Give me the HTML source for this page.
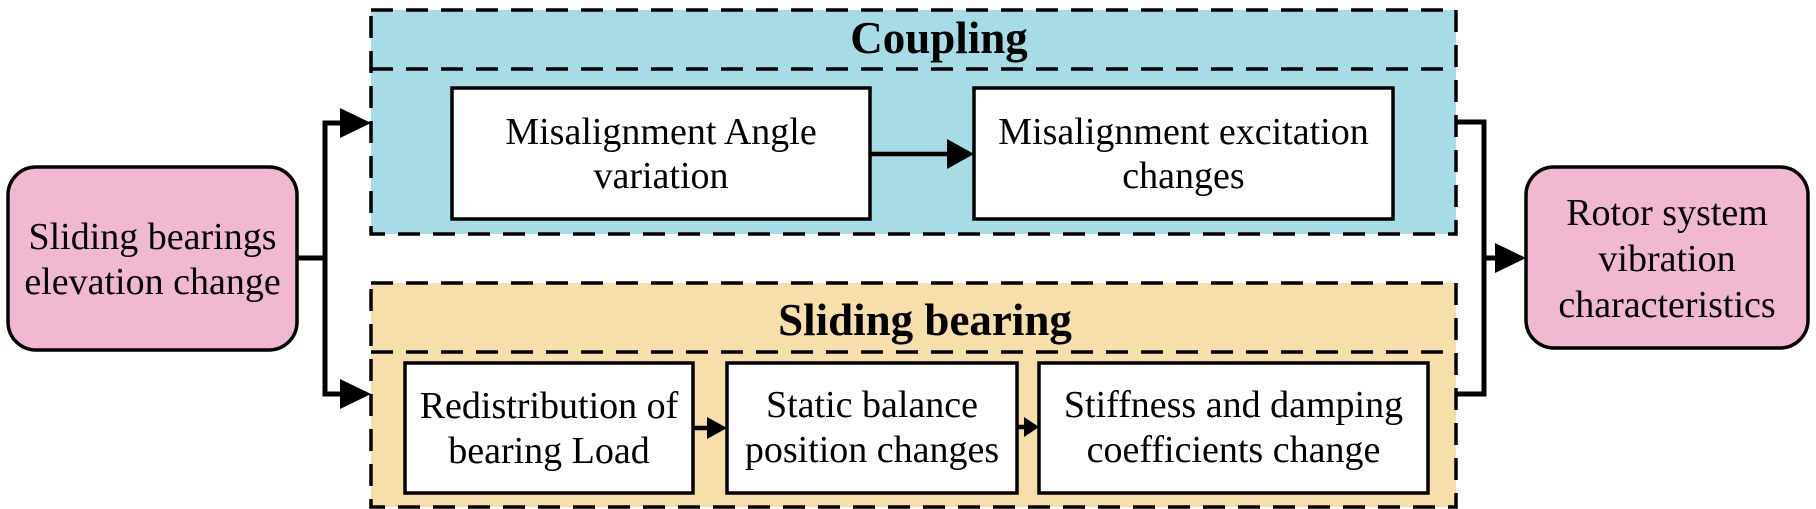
<!DOCTYPE html>
<html>
<head>
<meta charset="utf-8">
<style>
  html, body { margin: 0; padding: 0; background: #ffffff; }
  body { width: 1816px; height: 509px; overflow: hidden; }
  svg { display: block; }
  text { font-family: "Liberation Serif", "Times New Roman", serif; fill: #000; }
  .t { font-size: 38px; }
  .h { font-size: 45px; font-weight: bold; }
</style>
</head>
<body>
<svg width="1816" height="509" viewBox="0 0 1816 509" xmlns="http://www.w3.org/2000/svg">
  <!-- Coupling group -->
  <rect x="371" y="10" width="1085" height="224" fill="#a7dbe5" stroke="none"/>
  <rect x="371" y="10" width="1085" height="224" fill="none" stroke="#000" stroke-width="3.5" stroke-dasharray="22 13"/>
  <line x1="371" y1="69" x2="1456" y2="69" stroke="#000" stroke-width="3.5" stroke-dasharray="22 13"/>
  <text class="h" x="939" y="53" text-anchor="middle">Coupling</text>

  <rect x="452" y="88" width="418" height="131" fill="#fff" stroke="#000" stroke-width="3.5"/>
  <text class="t" x="661" y="144" text-anchor="middle">Misalignment Angle</text>
  <text class="t" x="661" y="188" text-anchor="middle">variation</text>

  <rect x="974" y="88" width="419" height="131" fill="#fff" stroke="#000" stroke-width="3.5"/>
  <text class="t" x="1183.5" y="144" text-anchor="middle">Misalignment excitation</text>
  <text class="t" x="1183.5" y="188" text-anchor="middle">changes</text>

  <line x1="870" y1="154" x2="949" y2="154" stroke="#000" stroke-width="4.5"/>
  <polygon points="947,139 974,154 947,169" fill="#000"/>

  <!-- Sliding bearing group -->
  <rect x="371" y="283" width="1085" height="224" fill="#f6dfaa" stroke="none"/>
  <rect x="371" y="283" width="1085" height="224" fill="none" stroke="#000" stroke-width="3.5" stroke-dasharray="22 13"/>
  <line x1="371" y1="352" x2="1456" y2="352" stroke="#000" stroke-width="3.5" stroke-dasharray="22 13"/>
  <text class="h" x="925" y="335" text-anchor="middle">Sliding bearing</text>

  <rect x="405" y="363" width="288" height="130" fill="#fff" stroke="#000" stroke-width="3.5"/>
  <text class="t" x="549" y="418" text-anchor="middle">Redistribution of</text>
  <text class="t" x="549" y="463" text-anchor="middle">bearing Load</text>

  <rect x="727" y="363" width="290" height="130" fill="#fff" stroke="#000" stroke-width="3.5"/>
  <text class="t" x="872" y="417" text-anchor="middle">Static balance</text>
  <text class="t" x="872" y="462" text-anchor="middle">position changes</text>

  <rect x="1039" y="363" width="389" height="130" fill="#fff" stroke="#000" stroke-width="3.5"/>
  <text class="t" x="1233.5" y="417" text-anchor="middle">Stiffness and damping</text>
  <text class="t" x="1233.5" y="462" text-anchor="middle">coefficients change</text>

  <line x1="693" y1="428" x2="710" y2="428" stroke="#000" stroke-width="4.5"/>
  <polygon points="707,417 727,428 707,439" fill="#000"/>
  <line x1="1017" y1="427" x2="1027" y2="427" stroke="#000" stroke-width="4.5"/>
  <polygon points="1024,417 1039,427 1024,437" fill="#000"/>

  <!-- Left pink box -->
  <rect x="8" y="167" width="289" height="183" rx="28" ry="28" fill="#f1b9d1" stroke="#000" stroke-width="3.5"/>
  <text class="t" x="152.5" y="249" text-anchor="middle">Sliding bearings</text>
  <text class="t" x="152.5" y="294" text-anchor="middle">elevation change</text>

  <!-- Left connector -->
  <line x1="297" y1="258" x2="327" y2="258" stroke="#000" stroke-width="5"/>
  <polyline points="342,123 325,123 325,394 342,394" fill="none" stroke="#000" stroke-width="5"/>
  <polygon points="340,108 371,123 340,138" fill="#000"/>
  <polygon points="340,379 371,394 340,409" fill="#000"/>

  <!-- Right connector -->
  <polyline points="1456,122 1484,122 1484,394 1456,394" fill="none" stroke="#000" stroke-width="5"/>
  <line x1="1484" y1="258" x2="1497" y2="258" stroke="#000" stroke-width="5"/>
  <polygon points="1495,243 1526,258 1495,273" fill="#000"/>

  <!-- Right pink box -->
  <rect x="1526" y="167" width="282" height="181" rx="28" ry="28" fill="#f1b9d1" stroke="#000" stroke-width="3.5"/>
  <text class="t" x="1667" y="225" text-anchor="middle">Rotor system</text>
  <text class="t" x="1667" y="271" text-anchor="middle">vibration</text>
  <text class="t" x="1667" y="317" text-anchor="middle">characteristics</text>
</svg>
</body>
</html>
